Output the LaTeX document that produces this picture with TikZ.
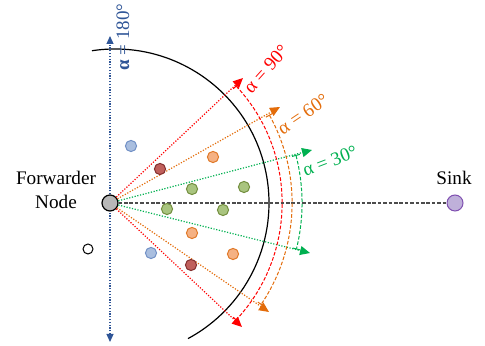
\documentclass[tikz,border=0pt]{standalone}
\usepackage{fontspec}
\setmainfont{Liberation Serif}
\usetikzlibrary{arrows.meta}
\definecolor{rayred}{HTML}{FF0000}
\definecolor{rayorange}{HTML}{E36C0A}
\definecolor{raygreen}{HTML}{00B050}
\definecolor{axisblue}{HTML}{2F5597}
\definecolor{bluefill}{HTML}{A9BEDF}
\definecolor{blueline}{HTML}{7291C6}
\definecolor{redfill}{HTML}{C0605C}
\definecolor{redline}{HTML}{843030}
\definecolor{orangefill}{HTML}{F5B183}
\definecolor{orangeline}{HTML}{E07A2A}
\definecolor{greenfill}{HTML}{A9C47F}
\definecolor{greenline}{HTML}{748F40}
\definecolor{sinkfill}{HTML}{BFB0DA}
\definecolor{sinkline}{HTML}{7F4FB0}
\tikzset{
  fwd/.style={circle, draw=black, fill=black!28, line width=0.6pt, minimum size=8pt, inner sep=0pt},
  sinknode/.style={circle, draw=sinkline, fill=sinkfill, line width=0.5pt, minimum size=8pt, inner sep=0pt},
  sensor/.style={circle, line width=0.5pt, minimum size=5.6pt, inner sep=0pt},
  sblue/.style={sensor, draw=blueline, fill=bluefill},
  sred/.style={sensor, draw=redline, fill=redfill},
  sorange/.style={sensor, draw=orangeline, fill=orangefill},
  sgreen/.style={sensor, draw=greenline, fill=greenfill},
  sfree/.style={sensor, draw=black, fill=white, minimum size=5pt},
  ray/.style={dash pattern=on 0.6pt off 0.8pt, line width=0.6pt, -{Triangle[length=5pt,width=4.5pt]}},
  span/.style={dash pattern=on 1.8pt off 0.9pt, line width=0.5pt, {Bar[width=4pt]}-{Bar[width=4pt]}},
  anglabel/.style={font=\fontsize{9.5}{11}\selectfont, inner sep=0pt},
}
\begin{document}
\begin{tikzpicture}[x=0.5pt, y=0.5pt]
\useasboundingbox (0,0) rectangle (485,346);
% range boundary
\draw[line width=0.6pt] (115,143) ++(98.6:154) arc (98.6:-61.7:154);
% axis through the forwarder
\coordinate (top) at (110,310);
\coordinate (bot) at (110,4);
\draw[axisblue, dash pattern=on 0.6pt off 0.8pt, line width=0.6pt, {Triangle[length=4pt,width=3.5pt]}-{Triangle[length=4pt,width=3.5pt]}] (bot) -- (top);
\node[anglabel, axisblue, rotate=90] (l180) at (123,309) {\textbf{α} = 180°};
% nodes
\node[fwd] (F) at (110,143) {};
\node[sinknode] (S) at (455,143) {};
\node[align=center, font=\fontsize{9.6}{12}\selectfont] (Flabel) at (56,156) {Forwarder\\Node};
\node[font=\fontsize{9.6}{12}\selectfont] (Slabel) at (454,168) {Sink};
\draw[black!70, dash pattern=on 1.8pt off 0.9pt, line width=0.6pt] (F) -- (S);
% ray ends
\coordinate (r1) at (243,268);
\coordinate (r2) at (242,19);
\coordinate (o1) at (280,239);
\coordinate (o2) at (269,34);
\coordinate (g1) at (312,196);
\coordinate (g2) at (310,93);
\draw[ray, rayred] (F) -- (r1);
\draw[ray, rayred] (F) -- (r2);
\draw[ray, rayorange] (F) -- (o1);
\draw[ray, rayorange] (F) -- (o2);
\draw[ray, raygreen] (F) -- (g1);
\draw[ray, raygreen] (F) -- (g2);
% angle spans
\draw[span, rayred] (F) ++(43:172) arc (43:-43:172);
\draw[span, rayorange] (F) ++(29:182) arc (29:-34:182);
\draw[span, raygreen] (F) ++(14.5:192) arc (14.5:-14:192);
\node[anglabel, rayred, rotate=48] (l90) at (266,277) {α = 90°};
\node[anglabel, rayorange, rotate=34] (l60) at (303,232) {α = 60°};
\node[anglabel, raygreen, rotate=21] (l30) at (330,185) {α = 30°};
% neighbours
\node[sblue] (b1) at (131,200) {};
\node[sblue] (b2) at (151,93) {};
\node[sred] (d1) at (160,177) {};
\node[sred] (d2) at (191,81) {};
\node[sorange] (o3) at (213,189) {};
\node[sorange] (o4) at (192,113) {};
\node[sorange] (o5) at (233,92) {};
\node[sgreen] (g3) at (192,157) {};
\node[sgreen] (g4) at (244,159) {};
\node[sgreen] (g5) at (167,137) {};
\node[sgreen] (g6) at (223,136) {};
\node[sfree] (w1) at (88,97) {};
\end{tikzpicture}
\end{document}
